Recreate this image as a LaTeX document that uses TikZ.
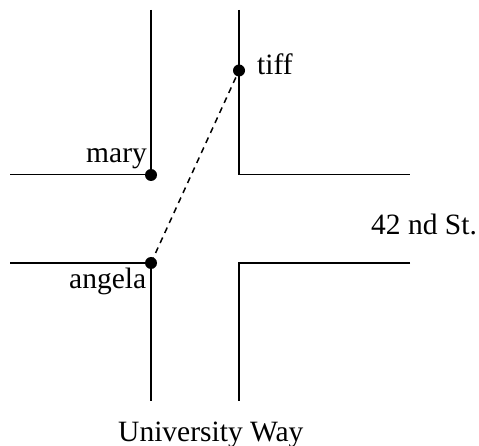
\documentclass[tikz,border=0pt]{standalone}
\usepackage{fontspec}
\setmainfont{Liberation Serif}
\begin{document}
\begin{tikzpicture}[x=1pt,y=-1pt,
  street/.style={line width=1.5pt},
  dot/.style={circle,fill=black,inner sep=0pt,minimum size=12pt},
  lbl/.style={inner sep=0pt,anchor=base west,font=\fontsize{29.5}{35}\selectfont},
  path/.style={line width=1.5pt,dash pattern=on 6pt off 5pt}]
\useasboundingbox (0,0) rectangle (479,446);
% streets
\draw[street] (151,10) -- (151,174.5) -- (10,174.5);
\draw[street] (239,10) -- (239,174.5) -- (410,174.5);
\draw[street] (10,263) -- (151,263) -- (151,401);
\draw[street] (410,263) -- (239,263) -- (239,401);
% people
\node[dot] (tiffdot) at (239,70.5) {};
\node[dot] (marydot) at (151,175) {};
\node[dot] (angeladot) at (151,263) {};
\draw[path] (angeladot.center) -- (tiffdot.center);
% labels
\node[lbl] (tiff) at (257,75) {tiff};
\node[lbl] (mary) at (86,163) {mary};
\node[lbl] (angela) at (69,288) {angela};
\node[lbl] (st) at (371,235) {42 nd St.};
\node[lbl] (way) at (118,441) {University Way};
\end{tikzpicture}
\end{document}
